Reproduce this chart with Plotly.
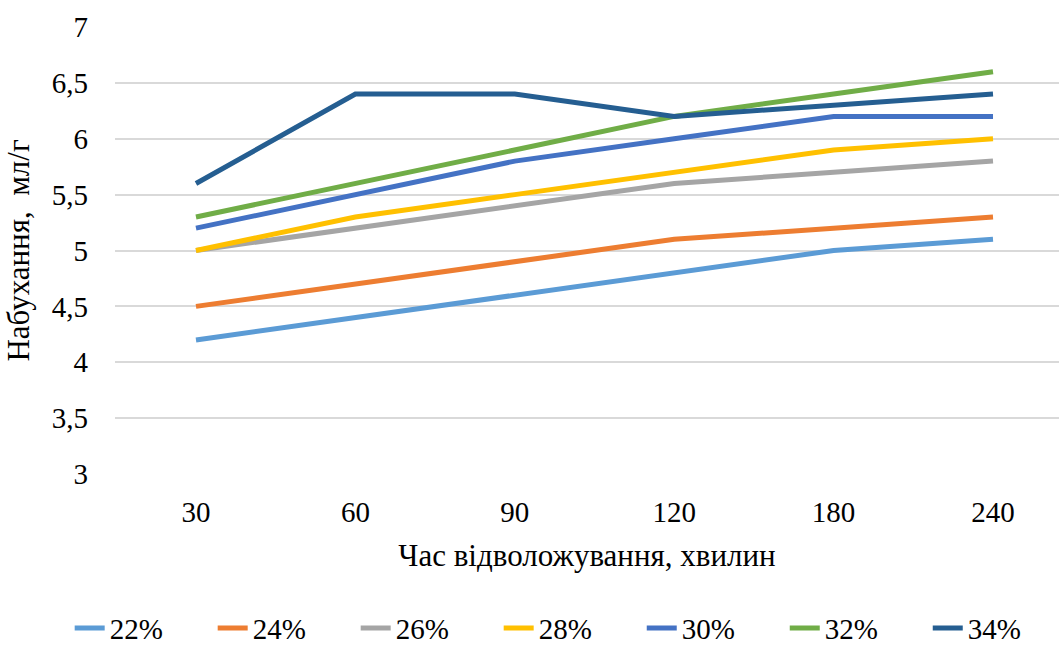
import plotly.graph_objects as go

# Soaking time, minutes (categorical x axis)
times = ["30", "60", "90", "120", "180", "240"]

# Swelling, ml/g, for each moisture level
s22 = [4.2, 4.4, 4.6, 4.8, 5.0, 5.1]
s24 = [4.5, 4.7, 4.9, 5.1, 5.2, 5.3]
s26 = [5.0, 5.2, 5.4, 5.6, 5.7, 5.8]
s28 = [5.0, 5.3, 5.5, 5.7, 5.9, 6.0]
s30 = [5.2, 5.5, 5.8, 6.0, 6.2, 6.2]
s32 = [5.3, 5.6, 5.9, 6.2, 6.4, 6.6]
s34 = [5.6, 6.4, 6.4, 6.2, 6.3, 6.4]

series_names = ["22%", "24%", "26%", "28%", "30%", "32%", "34%"]
series_values = [s22, s24, s26, s28, s30, s32, s34]
colors = ["#5B9BD5", "#ED7D31", "#A5A5A5", "#FFC000", "#4472C4", "#70AD47", "#255E91"]

FONT = "Liberation Serif"
TICK_SIZE = 29
TITLE_SIZE = 31

fig = go.Figure()
for i, (name, vals, col) in enumerate(zip(series_names, series_values, colors)):
    fig.add_trace(go.Scatter(
        x=list(range(len(times))), y=vals, name=name, mode="lines",
        line=dict(color=col, width=5),
        # the legend row is split in two blocks so it can run past the plot width
        legend="legend" if i < 4 else "legend2",
    ))

legend_style = dict(
    orientation="h", y=-0.345, yanchor="middle", xanchor="left",
    font=dict(family=FONT, size=TICK_SIZE, color="black"),
    entrywidth=98, entrywidthmode="pixels", itemwidth=30,
    tracegroupgap=0, bgcolor="rgba(0,0,0,0)",
)

fig.update_layout(
    width=1059, height=646,
    margin=dict(l=115, r=0, t=27, b=172, autoexpand=False),
    paper_bgcolor="white", plot_bgcolor="white",
    font=dict(family=FONT, size=TICK_SIZE, color="black"),
    separators=", ",
    showlegend=True,
    legend=dict(x=-0.048, **legend_style),
    legend2=dict(x=0.558, **legend_style),
)

fig.update_xaxes(
    tickmode="array", tickvals=list(range(len(times))), ticktext=times,
    range=[-0.508, 5.414],
    showgrid=False, zeroline=False, showline=False,
    ticks="", ticklabelstandoff=18,
    tickfont=dict(family=FONT, size=TICK_SIZE),
    title=dict(text="Час відволожування, хвилин", font=dict(family=FONT, size=TITLE_SIZE), standoff=17),
)

fig.update_yaxes(
    range=[3, 7], dtick=0.5, tick0=3,
    showgrid=True, gridcolor="#D9D9D9", gridwidth=1.5,
    zeroline=False, showline=False, ticks="",
    ticklabelstandoff=26,
    tickfont=dict(family=FONT, size=TICK_SIZE),
    title=dict(text="Набухання,  мл/г", font=dict(family=FONT, size=TITLE_SIZE), standoff=12),
)

fig.write_html("out.html")
